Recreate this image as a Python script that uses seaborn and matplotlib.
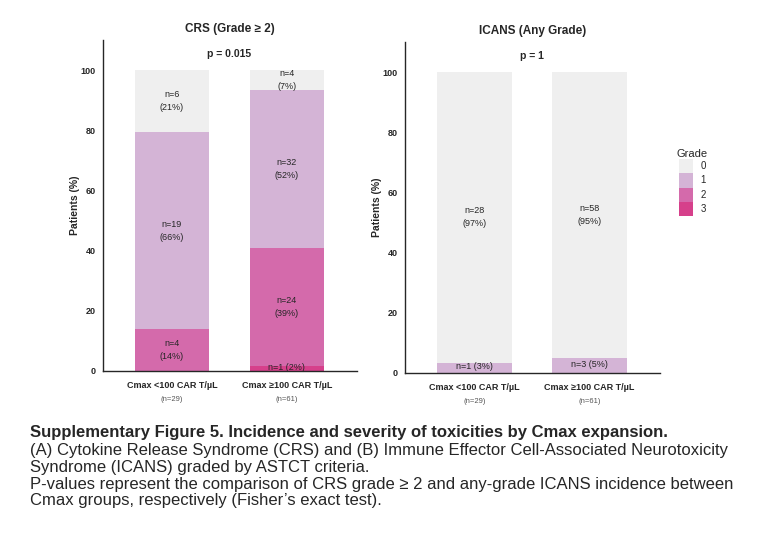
import matplotlib
matplotlib.use("Agg")
import matplotlib.pyplot as plt
import numpy as np
import pandas as pd
import seaborn as sns
from matplotlib.patches import Patch

sns.set_style("white")
plt.rcParams['font.family'] = ['Liberation Sans', 'DejaVu Sans']

groups = ["Cmax <100 CAR T/\u00b5L", "Cmax \u2265100 CAR T/\u00b5L"]
group_n = [29, 61]
grades = ["0", "1", "2", "3"]
crs_counts = {"0": [6, 4], "1": [19, 32], "2": [4, 24], "3": [0, 1]}
icans_counts = {"0": [28, 58], "1": [1, 3], "2": [0, 0], "3": [0, 0]}
colors = {"0": "#efefef", "1": "#d4b4d6", "2": "#d46aab", "3": "#d6408b"}


def draw_panel(ax, counts, title, pval):
    df = pd.DataFrame(counts, index=groups)
    pct = df.div(group_n, axis=0) * 100
    # stack order from bottom: 3, 2, 1, 0
    order = ["3", "2", "1", "0"]
    cum = pct[order].cumsum(axis=1)
    for g in reversed(order):
        d = pd.DataFrame({"group": groups, "val": cum[g].values})
        sns.barplot(data=d, x="group", y="val", color=colors[g], width=0.65,
                    saturation=1, ax=ax, edgecolor="none")
    for i, grp in enumerate(groups):
        bottom = 0
        for g in order:
            n = df.loc[grp, g]
            h = pct.loc[grp, g]
            if n > 0:
                p = round(h)
                if h < 6:
                    ax.text(i, bottom + h / 2 + 0.3, f"n={n} ({p}%)", ha="center",
                            va="center", fontsize=6.5)
                else:
                    ax.text(i, bottom + h / 2, f"n={n}\n({p}%)", ha="center",
                            va="center", fontsize=6.5, linespacing=1.6)
            bottom += h
    ax.set_xlim(-0.6, 1.61)
    ax.set_ylim(0, 110)
    ax.set_yticks([0, 20, 40, 60, 80, 100])
    ax.tick_params(axis="y", labelsize=6.5, pad=2)
    for lab in ax.get_yticklabels():
        lab.set_fontweight("bold")
    ax.set_xticks([0, 1])
    ax.set_xticklabels(groups, fontsize=6.5, fontweight="bold")
    ax.tick_params(axis="x", pad=4)
    for i, n in enumerate(group_n):
        ax.text(i, -9.5, f"(n={n})", ha="center", va="center", fontsize=5.5,
                color="#555555")
    ax.set_xlabel("")
    ax.set_ylabel("Patients (%)", fontsize=7.5, fontweight="bold", labelpad=0)
    ax.set_title(title, fontsize=8.5, fontweight="bold", pad=6)
    ax.text(0.5, 105.5, pval, ha="center", va="center", fontsize=7.5,
            fontweight="bold")
    sns.despine(ax=ax)
    ax.spines["left"].set_linewidth(1)
    ax.spines["bottom"].set_linewidth(1)


fig = plt.figure(figsize=(7.76, 5.46), dpi=100)
ax1 = fig.add_axes([103 / 776, 1 - 371 / 546, 254 / 776, 331 / 546])
ax2 = fig.add_axes([405 / 776, 1 - 373 / 546, 255 / 776, 331 / 546])
draw_panel(ax1, crs_counts, "CRS (Grade \u2265 2)", "p = 0.015")
draw_panel(ax2, icans_counts, "ICANS (Any Grade)", "p = 1")

handles = [Patch(facecolor=colors[g], edgecolor="none", label=g) for g in grades]
fig.legend(handles=handles, title="Grade", loc="upper left",
           bbox_to_anchor=(668 / 776, 1 - 140 / 546), frameon=False, fontsize=7,
           title_fontsize=8, handlelength=1.4, handleheight=1.9, labelspacing=0.0,
           handletextpad=0.8)

fig.text(30 / 776, 1 - 432 / 546,
         "Supplementary Figure 5. Incidence and severity of toxicities by Cmax expansion.",
         fontsize=12, fontweight="bold", va="center")
caption = ("(A) Cytokine Release Syndrome (CRS) and (B) Immune Effector Cell-Associated Neurotoxicity\n"
           "Syndrome (ICANS) graded by ASTCT criteria.\n"
           "P-values represent the comparison of CRS grade \u2265 2 and any-grade ICANS incidence between\n"
           "Cmax groups, respectively (Fisher\u2019s exact test).")
fig.text(30 / 776, 1 - 443 / 546, caption, fontsize=12, va="top", linespacing=1.15)

fig.savefig("out.png", dpi=100)
